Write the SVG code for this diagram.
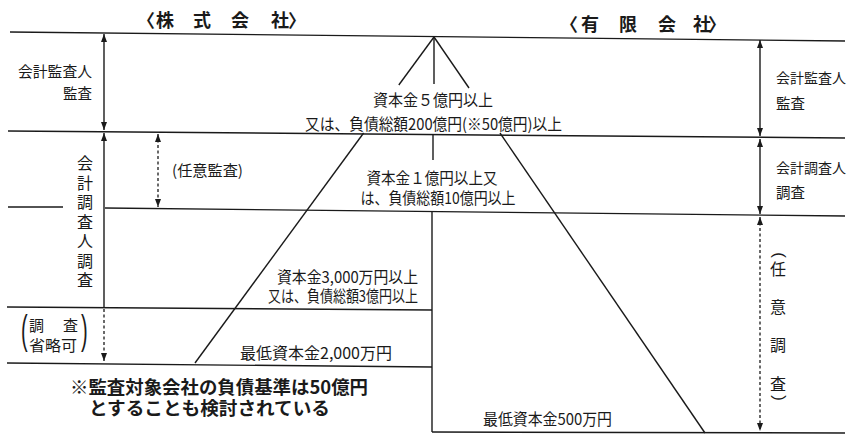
<svg xmlns="http://www.w3.org/2000/svg" width="849" height="437" viewBox="0 0 849 437">
<style>
.ln{stroke:#1a1a1a;stroke-width:1.4;fill:none}
.ar{stroke:#1a1a1a;stroke-width:1.4;fill:none}
.dt{stroke:#1a1a1a;stroke-width:1.3;fill:none;stroke-dasharray:3 2.5}
text{font-family:"Noto Sans CJK JP","Noto Sans",sans-serif;fill:#1a1a1a}
.t{font-size:16px}
.s{font-size:15px}
.r{font-size:14px}
.h{font-size:18px;font-weight:bold}
.n{font-size:18px;font-weight:bold}
.v{font-size:16px;text-anchor:middle}
.p{font-family:"Liberation Sans",sans-serif;font-size:20px}
.q{font-family:"Liberation Sans",sans-serif;font-size:17px;text-anchor:middle;dominant-baseline:central}
</style>
<defs>
<marker id="ah" viewBox="0 0 8 8" refX="8" refY="4" markerWidth="8" markerHeight="8" markerUnits="userSpaceOnUse" orient="auto-start-reverse">
<path d="M0,1 L8,4 L0,7 Z" fill="#1a1a1a"/>
</marker>
</defs>
<rect width="849" height="437" fill="#ffffff"/>

<g id="connectors">
<line class="ln" x1="10" y1="32" x2="845" y2="41"/>
<line class="ln" x1="8" y1="131" x2="845" y2="138"/>
<line class="ln" x1="8" y1="207" x2="63" y2="207"/>
<line class="ln" x1="105" y1="208" x2="845" y2="216"/>
<line class="ln" x1="7" y1="307" x2="432" y2="310"/>
<line class="ln" x1="7" y1="363" x2="432" y2="367"/>
<line class="ln" x1="432" y1="432" x2="845" y2="433"/>
<line class="ln" x1="434" y1="37" x2="398.8" y2="85"/>
<line class="ln" x1="363.6" y1="133" x2="195" y2="363"/>
<line class="ln" x1="434" y1="37" x2="469" y2="88"/>
<line class="ln" x1="500" y1="133" x2="705" y2="433"/>
<line class="ln" x1="434" y1="37" x2="434" y2="84"/>
<line class="ln" x1="433" y1="134" x2="433" y2="160"/>
<line class="ln" x1="432" y1="212" x2="432" y2="432"/>
<line class="ar" x1="104" y1="34" x2="104" y2="130" marker-start="url(#ah)" marker-end="url(#ah)"/>
<line class="ar" x1="104" y1="133" x2="104" y2="307" marker-start="url(#ah)"/>
<line class="dt" x1="104" y1="309" x2="104" y2="361" marker-end="url(#ah)"/>
<line class="dt" x1="158" y1="134" x2="158" y2="207" marker-start="url(#ah)" marker-end="url(#ah)"/>
<line class="ar" x1="760" y1="40" x2="760" y2="136" marker-start="url(#ah)" marker-end="url(#ah)"/>
<line class="ar" x1="760" y1="139" x2="760" y2="214" marker-start="url(#ah)" marker-end="url(#ah)"/>
<line class="dt" x1="760" y1="217" x2="760" y2="431" marker-start="url(#ah)" marker-end="url(#ah)"/>
</g>

<g id="title-kabushiki">
<text class="h" text-anchor="middle" x="146 165 202 240 280 297" y="27">〈株式会社〉</text>
</g>
<g id="title-yugen">
<text class="h" text-anchor="middle" x="569 590 628 667 702 717" y="31">〈有限会社〉</text>
</g>

<g id="left-audit">
<text class="s" x="92" y="77" text-anchor="end" textLength="74" lengthAdjust="spacingAndGlyphs">会計監査人</text>
<text class="s" x="92" y="99" text-anchor="end" textLength="29" lengthAdjust="spacingAndGlyphs">監査</text>
</g>

<g id="left-survey">
<text class="v" x="85" y="169">会</text>
<text class="v" x="85" y="188.5">計</text>
<text class="v" x="85" y="208">調</text>
<text class="v" x="85" y="227.5">査</text>
<text class="v" x="85" y="247">人</text>
<text class="v" x="85" y="266.5">調</text>
<text class="v" x="85" y="286">査</text>
</g>

<g id="optional-audit">
<text class="s" x="172" y="176" textLength="71" lengthAdjust="spacingAndGlyphs">(任意監査)</text>
</g>

<g id="omit">
<text class="p" transform="translate(21,344) scale(1,2)">(</text>
<text class="p" transform="translate(81,344) scale(1,2)">)</text>
<text class="s" x="29" y="331">調</text>
<text class="s" x="63" y="331">査</text>
<text class="s" x="29" y="351" textLength="48" lengthAdjust="spacingAndGlyphs">省略可</text>
</g>

<g id="right-audit">
<text class="r" x="776" y="83" textLength="70" lengthAdjust="spacingAndGlyphs">会計監査人</text>
<text class="s" x="776" y="109" textLength="29" lengthAdjust="spacingAndGlyphs">監査</text>
</g>
<g id="right-survey">
<text class="r" x="776" y="173" textLength="70" lengthAdjust="spacingAndGlyphs">会計調査人</text>
<text class="s" x="776" y="198" textLength="29" lengthAdjust="spacingAndGlyphs">調査</text>
</g>
<g id="right-optional">
<text class="q" transform="translate(779,255) rotate(90)">(</text>
<text class="v" x="778" y="275">任</text>
<text class="v" x="778" y="313">意</text>
<text class="v" x="778" y="351">調</text>
<text class="v" x="778" y="390">査</text>
<text class="q" transform="translate(779,398) rotate(90)">)</text>
</g>

<g id="tier1">
<text class="t" x="433" y="106" text-anchor="middle" textLength="120" lengthAdjust="spacingAndGlyphs">資本金５億円以上</text>
<text class="t" x="433.5" y="130" text-anchor="middle" textLength="257" lengthAdjust="spacingAndGlyphs">又は、負債総額200億円(※50億円)以上</text>
</g>
<g id="tier2">
<text class="t" x="432" y="184" text-anchor="middle" textLength="131" lengthAdjust="spacingAndGlyphs">資本金１億円以上又</text>
<text class="t" x="438" y="204" text-anchor="middle" textLength="155" lengthAdjust="spacingAndGlyphs">は、負債総額10億円以上</text>
</g>
<g id="tier3">
<text class="t" x="418" y="283" text-anchor="end" textLength="141" lengthAdjust="spacingAndGlyphs">資本金3,000万円以上</text>
<text class="t" x="418" y="302" text-anchor="end" textLength="150" lengthAdjust="spacingAndGlyphs">又は、負債総額3億円以上</text>
</g>
<g id="tier4">
<text class="t" x="392" y="359" text-anchor="end" textLength="152" lengthAdjust="spacingAndGlyphs">最低資本金2,000万円</text>
</g>
<g id="yugen-min">
<text class="t" x="483" y="425" textLength="129" lengthAdjust="spacingAndGlyphs">最低資本金500万円</text>
</g>

<g id="note">
<text class="n" x="70" y="394" textLength="298" lengthAdjust="spacingAndGlyphs">※監査対象会社の負債基準は50億円</text>
<text class="n" x="89" y="415" textLength="241" lengthAdjust="spacingAndGlyphs">とすることも検討されている</text>
</g>
</svg>
